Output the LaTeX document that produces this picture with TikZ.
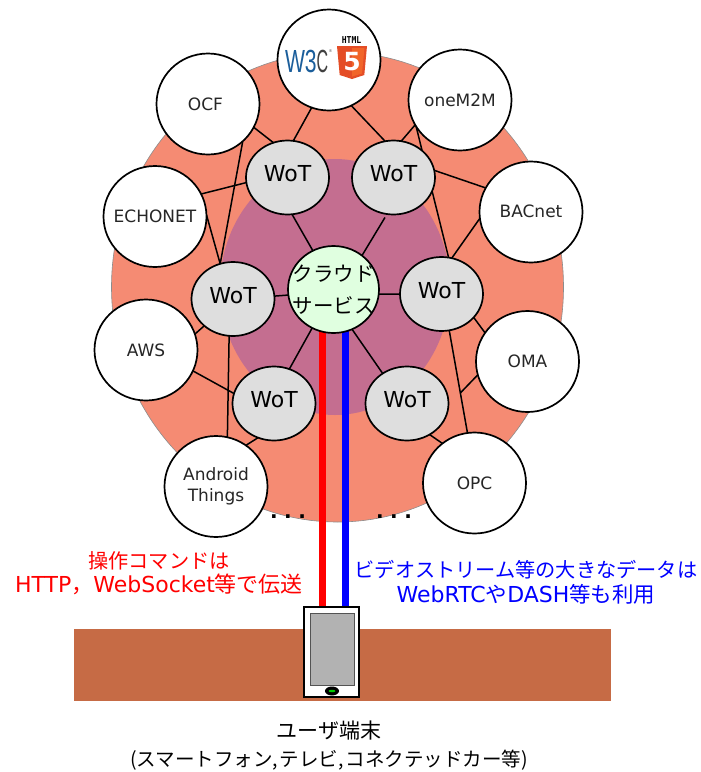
\documentclass[tikz,border=0pt]{standalone}
\usepackage{fontspec}
\setmainfont{DejaVu Sans}
\newfontfamily\cjk{Noto Sans CJK JP}
\newfontfamily\logofont{Liberation Sans}
\newfontfamily\htmlfont{DejaVu Sans Mono}
\usetikzlibrary{shapes.geometric,calc}
\pgfdeclarelayer{under}
\pgfsetlayers{under,main}
\definecolor{outerc}{HTML}{F58B73}
\definecolor{innerc}{HTML}{C46E90}
\definecolor{wotc}{HTML}{DEDEDE}
\definecolor{cloudc}{HTML}{E0FFE0}
\definecolor{bandc}{HTML}{C66B45}
\definecolor{wthree}{HTML}{1B5E9B}
\definecolor{hfive}{HTML}{E44D26}
\definecolor{hfivel}{HTML}{F16529}
\newcommand{\lat}[1]{{\fontsize{22}{24}\selectfont\rmfamily #1}}
\newcommand{\up}[1]{\raisebox{8pt}{#1}}
\tikzset{
  every node/.style={inner sep=0pt,outer sep=0pt},
  link/.style={draw=black,line width=1.5pt},
  peer/.style={ellipse,draw=black,line width=1.7pt,fill=white,inner sep=-16pt,minimum width=103pt,minimum height=101pt,font=\fontsize{17}{21.5}\selectfont,text=black!85,align=center},
  wot/.style={ellipse,draw=black,line width=1.7pt,fill=wotc,minimum width=83pt,minimum height=74pt,font=\fontsize{22}{26}\selectfont},
  cloudn/.style={ellipse,draw=black,line width=1.7pt,fill=cloudc,inner sep=-18pt,minimum width=91pt,minimum height=87pt,font=\fontsize{20.5}{31.5}\selectfont\cjk,align=center},
  jp/.style={font=\fontsize{20.2}{24.5}\selectfont\cjk,align=center},
  thickline/.style={line width=7pt},
  dotsn/.style={anchor=base,font=\fontsize{20}{22}\bfseries\selectfont}
}
\begin{document}
\begin{tikzpicture}[x=1pt,y=-1pt]
\useasboundingbox (0,0) rectangle (701,772);
\node[wot] (wtl) at (287.5,177.5) {\up{WoT}};
\node[wot] (wtr) at (393.5,177.5) {\up{WoT}};
\node[wot] (wl) at (233,299) {\up{WoT}};
\node[wot] (wr) at (441.5,294) {\up{WoT}};
\node[wot] (wbl) at (274,403.5) {\up{WoT}};
\node[wot] (wbr) at (407,403.5) {\up{WoT}};
\node[cloudn] (cloud) at (333.5,289.5) {クラウド\\サービス};
\node[peer] (w3c) at (329,60) {};
\node[peer] (ocf) at (208,104) {\hspace{-5pt}OCF};
\node[peer] (m2m) at (460,100) {oneM2M};
\node[peer] (echo) at (155,216.5) {ECHONET};
\node[peer] (bac) at (531,212) {\raisebox{2pt}{BACnet}};
\node[peer] (aws) at (146,350) {AWS};
\node[peer] (oma) at (527.5,361.5) {OMA};
\node[peer] (and) at (216,486.5) {Android\\Things};
\node[peer] (opc) at (474.5,483) {OPC};
\path (322,607) coordinate (redx) (345,607) coordinate (bluex);
\begin{pgfonlayer}{under}
\fill[white] (0,0) rectangle (701,772);
\node[ellipse,draw=black!45,line width=0.6pt,fill=outerc,minimum width=452pt,minimum height=470pt] (outer) at (337.5,287) {};
\node[ellipse,fill=innerc,minimum width=230pt,minimum height=256pt] (inner) at (335,287) {};
\node[fill=bandc,minimum width=537pt,minimum height=72pt] (band) at (342.5,665) {};
\draw[red,thickline] (redx) -- (redx |- cloud.center);
\draw[blue,thickline] (bluex) -- (bluex |- cloud.center);
\draw[link] (ocf.-27) -- (wtl.112);
\draw[link] (w3c.-110) -- (wtl.81);
\draw[link] (w3c.-64) -- (wtr.103);
\draw[link] (m2m.-151) -- (wtr.78);
\draw[link] (ocf.-47) -- (wl.110);
\draw[link] (echo.26) -- (wtl.187);
\draw[link] (echo.2) -- (wl.110);
\draw[link] (wtl.-83) -- (cloud.118);
\draw[link,shorten <=4pt] (wtr.-100) -- (cloud.50);
\draw[link] (wl.4) -- (cloud.187);
\draw[link] (cloud.-6) -- (wr.180);
\draw[link] (cloud.-119) -- (wbl.66);
\draw[link] (cloud.-65) -- (wbr.129);
\draw[link] (m2m.-149) -- (wr.79);
\draw[link] (wtr.10) -- (bac.152);
\draw[link] (bac.187) -- (wr.74);
\draw[link] (wr.-36) -- (oma.146);
\draw[link] (wr.-78) -- (opc.98);
\coordinate (omaj) at ($(wr.-78)!.61!(opc.98)$);
\draw[link] (oma.195) -- (omaj);
\draw[link] (aws.-24) -- (wbl.166);
\draw[link] (aws.18) -- (wl.223);
\draw[link] (wl.-96) -- (and.77);
\draw[link] (wbl.-115) -- (and.54);
\draw[link] (wbr.-54) -- (opc.129);
\end{pgfonlayer}
% W3C + HTML5 logo
\node[anchor=base west,font=\fontsize{32}{32}\selectfont\logofont,text=wthree] (wlogo) at (285,72) {\scalebox{.66}[1]{W3}};
\node[anchor=base west,font=\fontsize{32}{32}\selectfont\logofont,text=black!75] (clogo) at (wlogo.base east) {\scalebox{.5}[1]{C}};
\node[anchor=base west,font=\fontsize{4}{4}\selectfont\logofont,text=black!70] (reg) at (329,52) {®};
\node[anchor=base,font=\fontsize{9.5}{10}\bfseries\selectfont\htmlfont,text=black] (html) at (351.5,43.5) {\scalebox{.85}[1]{HTML}};
\fill[hfive] (337,46) -- (367,46) -- (364.3,75) -- (352,79) -- (339.7,75) -- cycle;
\fill[hfivel] (352,48) -- (364.5,48) -- (362,73.5) -- (352,76.5) -- cycle;
\node[font=\fontsize{25}{25}\selectfont\bfseries,text=white] (five) at (352,62) {5};
% phone
\node[draw=black,line width=1.2pt,fill=white,minimum width=55pt,minimum height=90pt] (phone) at (331.5,652) {};
\node[draw=black!35!gray,line width=0.8pt,fill=black!30,minimum width=44pt,minimum height=72pt] (screen) at (332,649) {};
\node[ellipse,fill=black,minimum width=14pt,minimum height=9pt] (btn) at (332,691) {};
\node[ellipse,fill=green!80!black,minimum width=7pt,minimum height=2.5pt] (led) at (332,691) {};
% labels
\node[jp,text=red] (lred) at (159,573) {操作コマンドは\\\lat{HTTP}{\fontsize{22}{24}\selectfont ，}\lat{WebSocket}{\fontsize{22}{24}\selectfont 等で伝送}};
\node[jp,text=blue] (lblue) at (526,582.5) {ビデオストリーム等の大きなデータは\\\lat{WebRTC}{\fontsize{21.5}{24}\selectfont や}\lat{DASH}{\fontsize{21.5}{24}\selectfont 等も利用}};
\node[jp,text=black,font=\fontsize{21}{24}\selectfont\cjk] (lbot1) at (329,731) {ユーザ端末};
\node[jp,text=black,font=\fontsize{19.5}{24}\selectfont\cjk] (lbot2) at (329,760) {(スマートフォン,\hspace{2pt}テレビ,\hspace{2pt}コネクテッドカー等)};
\node[dotsn] (d1) at (288,518.5) {.\hspace{6.5pt}.\hspace{6.5pt}.};
\node[dotsn] (d2) at (394,518.5) {.\hspace{6.5pt}.\hspace{6.5pt}.};
\end{tikzpicture}
\end{document}
